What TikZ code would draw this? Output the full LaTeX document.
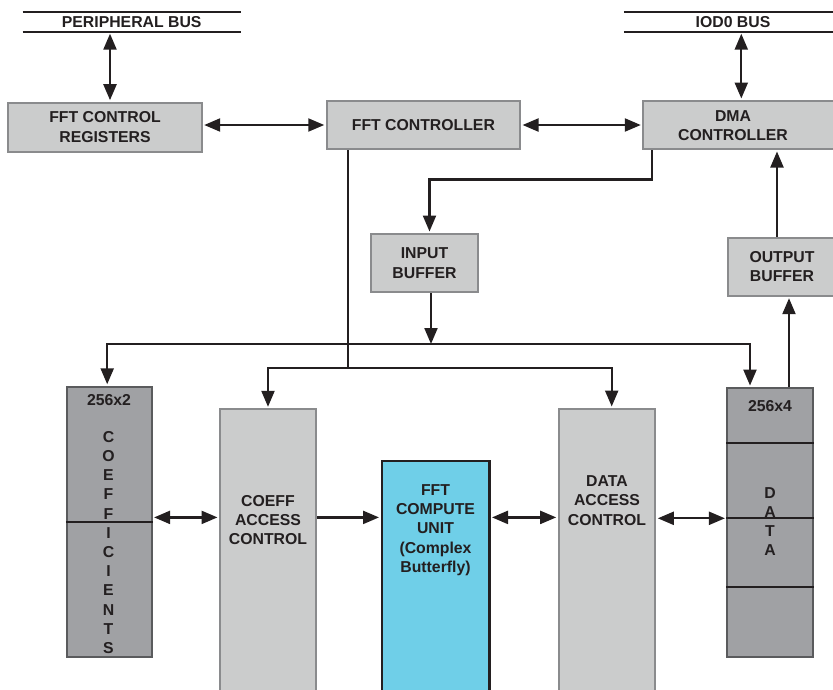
\documentclass[tikz,border=0pt]{standalone}
\usepackage{fontspec}
\setmainfont{Liberation Sans}
\usetikzlibrary{arrows.meta}
\definecolor{lgray}{HTML}{CBCCCC}
\definecolor{lborder}{HTML}{8A8B8D}
\definecolor{dgray}{HTML}{A0A1A4}
\definecolor{dborder}{HTML}{5A5B5D}
\definecolor{cyanfill}{HTML}{6FCFE8}
\definecolor{ink}{HTML}{231F20}
\tikzset{
  lbox/.style={draw=lborder, fill=lgray, line width=2pt, inner sep=0pt, align=center, text=ink},
  dbox/.style={draw=dborder, fill=dgray, line width=1.8pt, inner sep=0pt, align=center, text=ink},
  cbox/.style={draw=ink, fill=cyanfill, line width=2.4pt, inner sep=0pt, align=center, text=ink},
  txt/.style={inner sep=0pt, align=center, text=ink},
  wire/.style={draw=ink, line width=2.2pt},
  arr/.style={wire, -{Triangle[length=16pt,width=13pt]}, shorten >=1.5pt},
  dbl/.style={wire, {Triangle[length=16pt,width=13pt]}-{Triangle[length=16pt,width=13pt]}, shorten >=1.5pt, shorten <=1.5pt},
  divider/.style={draw=ink, line width=2.2pt},
  busline/.style={draw=ink, line width=2.2pt}
}
\begin{document}
\begin{tikzpicture}[x=1pt,y=-1pt,font=\fontsize{15.8}{19.3}\selectfont\bfseries]
\useasboundingbox (0,0) rectangle (833,689);

% buses
\node[txt, minimum width=218, minimum height=20] (pbus) at (131.7,22) {PERIPHERAL BUS};
\draw[busline] (pbus.north west) -- (pbus.north east);
\draw[busline] (pbus.south west) -- (pbus.south east);
\node[txt, minimum width=218, minimum height=20] (iod) at (733,22) {IOD0 BUS};
\draw[busline] (iod.north west) -- (iod.north east);
\draw[busline] (iod.south west) -- (iod.south east);

% top row
\node[lbox, minimum width=193.4, minimum height=49] (reg) at (105,127.2) {FFT CONTROL\\REGISTERS};
\node[lbox, minimum width=193.3, minimum height=48] (ctl) at (423.4,125) {FFT CONTROLLER};
\node[lbox, minimum width=196, minimum height=48] (dma) at (741.3,125) {};
\node[txt] (dmat) at (733,125.4) {DMA\\CONTROLLER};

% buffers
\node[lbox, minimum width=107, minimum height=58] (ib) at (424.5,263) {INPUT\\BUFFER};
\node[lbox, minimum width=108, minimum height=58] (ob) at (782,266.7) {OUTPUT\\BUFFER};

% lower blocks
\node[dbox, minimum width=85, minimum height=270] (coef) at (109.2,521.7) {};
\node[lbox, minimum width=96, minimum height=291] (cac) at (268,554.8) {};
\node[cbox, minimum width=107.6, minimum height=240] (fcu) at (435.5,581) {};
\node[lbox, minimum width=96.6, minimum height=291] (dac) at (607,554.5) {};
\node[dbox, minimum width=85.7, minimum height=269.3] (data) at (770.2,522.6) {};

% dividers
\draw[divider] (coef.west) -- (coef.east);
\draw[divider] ([yshift=79.3pt]data.west) -- ([yshift=79.3pt]data.east);
\draw[divider] ([yshift=4.9pt]data.west) -- ([yshift=4.9pt]data.east);
\draw[divider] ([yshift=-64.7pt]data.west) -- ([yshift=-64.7pt]data.east);

% texts in lower blocks
\node[txt] (coefsz) at (109,400) {256x2};
\node[txt, font=\fontsize{15.8}{19.2}\selectfont\bfseries] (coeft) at (108.5,542.5) {C\\O\\E\\F\\F\\I\\C\\I\\E\\N\\T\\S};
\node[txt] (cact) at (268,520) {COEFF\\ACCESS\\CONTROL};
\node[txt] (fcut) at (435.5,530) {FFT\\COMPUTE\\UNIT\\(Complex\\Butterfly)};
\node[txt] (dact) at (607,500.5) {DATA\\ACCESS\\CONTROL};
\node[txt] (datasz) at (770,406) {256x4};
\node[txt, font=\fontsize{15.8}{19.2}\selectfont\bfseries] (datat) at (770,521.7) {D\\A\\T\\A};

% connectors top
\draw[dbl] ([xshift=5pt]reg.north) -- ([xshift=5pt]reg.north |- pbus.south);
\draw[dbl] (reg.east |- ctl.west) -- (ctl.west);
\draw[dbl] (ctl.east) -- (dma.west);
\draw[dbl] (dma.north) -- (dma.north |- iod.south);

% dma -> input buffer
\draw[arr] ([xshift=9.7pt]dma.south west) -- ++(0,29.4) -| ([xshift=5pt]ib.north);

% input buffer -> distribution line
\coordinate (bus1) at (431,344);
\coordinate (bus2) at (347.7,368);
\draw[arr, shorten >=0pt] ([xshift=6.5pt]ib.south) -- (bus1);
\draw[arr] (bus1) -| ([xshift=-2pt]coef.north);
\draw[arr] (bus1) -| ([xshift=-20.2pt]data.north);

% controller -> access controls
\draw[wire] ([xshift=-75.7pt]ctl.south) -- (bus2);
\draw[arr] (bus2) -| (cac.north);
\draw[arr] (bus2) -| ([xshift=4.7pt]dac.north);

% data -> output buffer -> dma
\draw[arr] ([xshift=18.8pt]data.north) -- ([xshift=18.8pt]data.north |- ob.south);
\draw[arr] ([xshift=-5pt]ob.north) -- ([xshift=-5pt]ob.north |- dma.south);

% row connectors
\coordinate (row) at (0,517.4);
\coordinate (row2) at (0,518.3);
\draw[dbl] (coef.east |- row) -- (cac.west |- row);
\draw[arr] (cac.east |- row) -- (fcu.west |- row);
\draw[dbl] (fcu.east |- row) -- (dac.west |- row);
\draw[dbl] (dac.east |- row2) -- (data.west |- row2);
\end{tikzpicture}
\end{document}
